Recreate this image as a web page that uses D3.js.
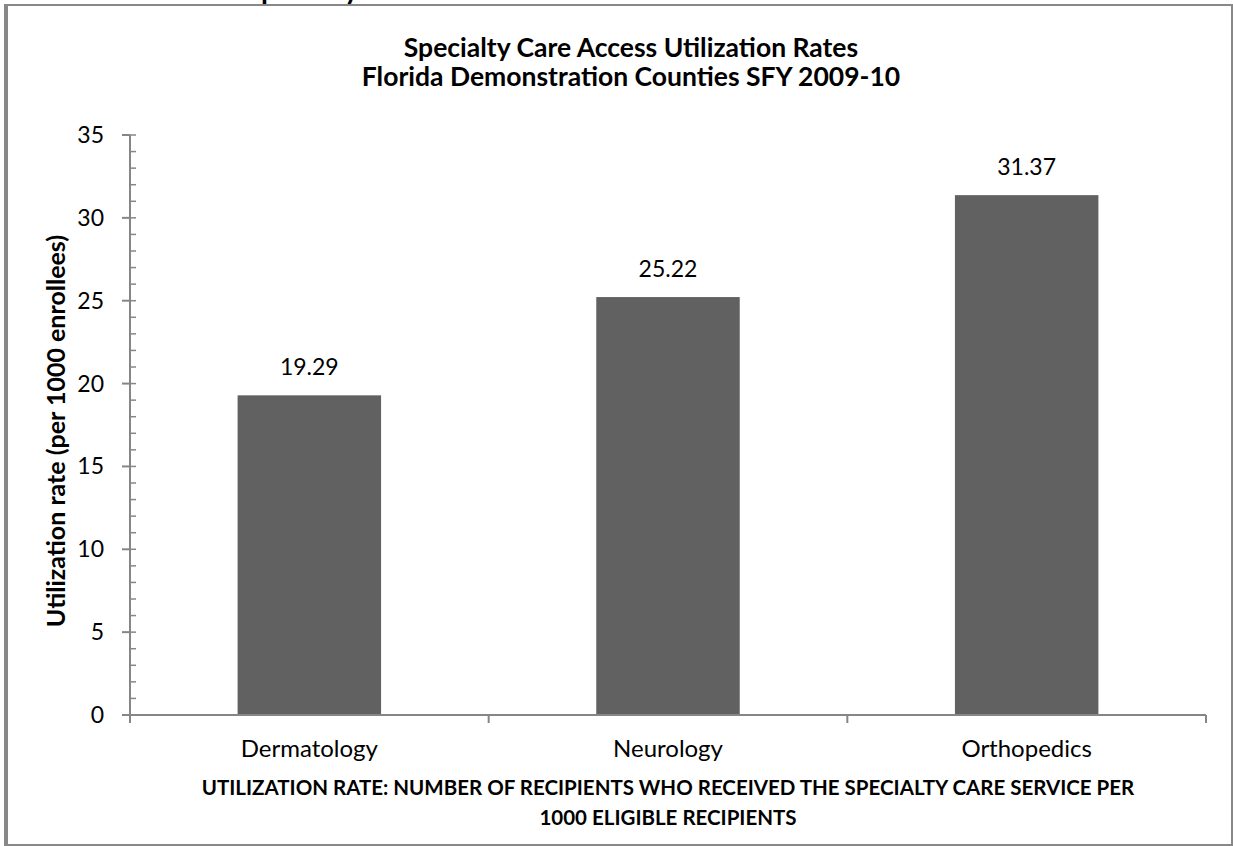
<!DOCTYPE html>
<html><head><meta charset="utf-8">
<script src="https://cdn.jsdelivr.net/npm/d3@7"></script>
<style>body{margin:0;background:#fff}svg{display:block}text{font-family:Lato,"Open Sans",sans-serif}</style>
</head><body>
<svg id="c" width="1233" height="846"></svg>
<script>
const categories = ["Dermatology", "Neurology", "Orthopedics"];
const values = [19.29, 25.22, 31.37];
const valueLabels = ["19.29", "25.22", "31.37"];
const yTicks = [0, 5, 10, 15, 20, 25, 30, 35];
const minorTicks = d3.range(0, 35.01, 1);
const titleLines = ["Specialty Care Access Utilization Rates", "Florida Demonstration Counties SFY 2009-10"];
const xTitleLines = ["UTILIZATION RATE: NUMBER OF RECIPIENTS WHO RECEIVED THE SPECIALTY CARE SERVICE PER", "1000 ELIGIBLE RECIPIENTS"];
const yTitle = "Utilization rate (per 1000 enrollees)";

const svg = d3.select("#c");
const axisColor = "#868686";

// clipped heading above frame (cut off in the reference as well)
svg.append("text").attr("x", 246).attr("y", -1).attr("font-weight", "bold").attr("font-size", 28).text("Specialty Care");

// frame
svg.append("rect").attr("x", 5).attr("y", 5).attr("width", 1227).attr("height", 840)
  .attr("fill", "none").attr("stroke", "#888").attr("stroke-width", 2);
svg.append("line").attr("x1", 6).attr("x2", 6).attr("y1", 5).attr("y2", 845).attr("stroke", "#888").attr("stroke-width", 4);

const L = 130, R = 1206, T = 135, B = 715;
const x = d3.scaleBand().domain(categories).range([L, R]).paddingInner(0.6).paddingOuter(0.3);
const y = d3.scaleLinear().domain([0, 35]).range([B, T]);

// bars
svg.selectAll("rect.bar").data(values).join("rect").attr("class", "bar")
  .attr("x", (d, i) => x(categories[i])).attr("width", x.bandwidth())
  .attr("y", d => y(d)).attr("height", d => B - y(d)).attr("fill", "#616161");

// value labels
svg.selectAll("text.val").data(values).join("text").attr("class", "val")
  .attr("x", (d, i) => x(categories[i]) + x.bandwidth() / 2).attr("y", d => y(d) - 20)
  .attr("text-anchor", "middle").attr("font-size", 23).attr("fill", "#000")
  .text((d, i) => valueLabels[i]);

// y axis
const g = svg.append("g");
g.append("line").attr("x1", L).attr("x2", L).attr("y1", T).attr("y2", B).attr("stroke", axisColor).attr("stroke-width", 2);
g.selectAll("line.minor").data(minorTicks).join("line").attr("class", "minor")
  .attr("x1", L).attr("x2", L + 6).attr("y1", d => y(d)).attr("y2", d => y(d)).attr("stroke", axisColor).attr("stroke-width", 1.5);
g.selectAll("line.major").data(yTicks).join("line").attr("class", "major")
  .attr("x1", L - 8).attr("x2", L).attr("y1", d => y(d)).attr("y2", d => y(d)).attr("stroke", axisColor).attr("stroke-width", 2);
g.selectAll("text.yt").data(yTicks).join("text").attr("class", "yt")
  .attr("x", L - 26).attr("y", d => y(d) + 8).attr("text-anchor", "end").attr("font-size", 23).text(d => d);

// x axis
g.append("line").attr("x1", L).attr("x2", R).attr("y1", B).attr("y2", B).attr("stroke", axisColor).attr("stroke-width", 2);
const step = (R - L) / categories.length;
g.selectAll("line.xt").data(d3.range(categories.length + 1)).join("line").attr("class", "xt")
  .attr("x1", d => L + d * step).attr("x2", d => L + d * step).attr("y1", B).attr("y2", B + 8).attr("stroke", axisColor).attr("stroke-width", 2);
g.selectAll("text.xl").data(categories).join("text").attr("class", "xl")
  .attr("x", d => x(d) + x.bandwidth() / 2).attr("y", 757).attr("text-anchor", "middle").attr("font-size", 24).text(d => d);

// titles
svg.selectAll("text.title").data(titleLines).join("text").attr("class", "title")
  .attr("x", 631).attr("y", (d, i) => 57 + i * 29).attr("text-anchor", "middle")
  .attr("font-weight", "bold").attr("font-size", 26.5).text(d => d);
svg.selectAll("text.xtitle").data(xTitleLines).join("text").attr("class", "xtitle")
  .attr("x", 668).attr("y", (d, i) => 795 + i * 30).attr("text-anchor", "middle")
  .attr("font-weight", "bold").attr("font-size", 20.5).text(d => d);
svg.append("text").attr("transform", "translate(65,431) rotate(-90)").attr("text-anchor", "middle")
  .attr("font-weight", "bold").attr("font-size", 25).text(yTitle);
</script>
</body></html>
